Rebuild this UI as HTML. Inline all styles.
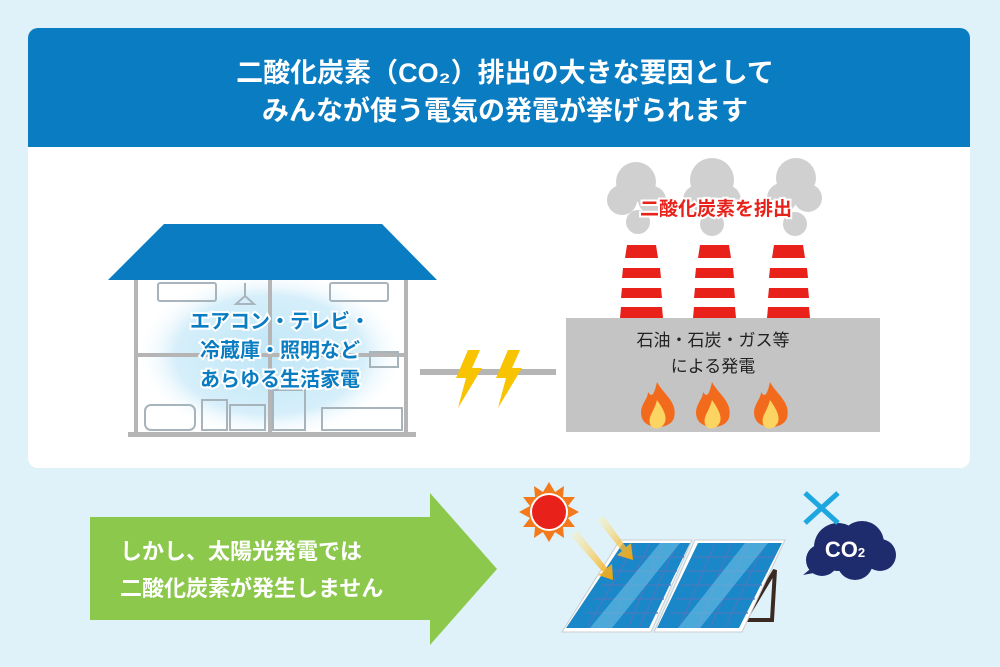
<!DOCTYPE html>
<html><head><meta charset="utf-8"><style>
body{margin:0;width:1000px;height:667px;background:#dff2fa;overflow:hidden;font-family:"Liberation Sans","Noto Sans CJK JP",sans-serif}
svg{position:absolute;left:0;top:0}
</style></head><body>
<svg width="1000" height="667" viewBox="0 0 1000 667" font-family="Liberation Sans, Noto Sans CJK JP, sans-serif">
<defs>
<radialGradient id="glow" cx="0.5" cy="0.5" r="0.5"><stop offset="0" stop-color="#bfe6f8"/><stop offset="0.7" stop-color="#d6effa"/><stop offset="1" stop-color="#fff" stop-opacity="0"/></radialGradient>
<linearGradient id="ray" x1="0" y1="0" x2="1" y2="1"><stop offset="0" stop-color="#fff3b0" stop-opacity="0.3"/><stop offset="1" stop-color="#f5a300"/></linearGradient>
</defs>
<rect x="28" y="28" width="942" height="440" rx="10" fill="#fff"/>
<path d="M38 28H960A10 10 0 0 1 970 38V147H28V38A10 10 0 0 1 38 28Z" fill="#0a7cc1"/>
<text x="505" y="82" fill="#fff" font-size="27" font-weight="bold" text-anchor="middle">二酸化炭素（CO₂）排出の大きな要因として</text>
<text x="505" y="120" fill="#fff" font-size="27" font-weight="bold" text-anchor="middle">みんなが使う電気の発電が挙げられます</text>
<!-- house -->
<ellipse cx="270" cy="355" rx="135" ry="85" fill="url(#glow)"/>
<g fill="none" stroke="#b5b5b5" stroke-width="4">
<path d="M136 280V433M406 280V433M136 355H406M270 280V433"/>
</g>
<rect x="128" y="432" width="288" height="5" fill="#b5b5b5"/>
<polygon points="108,280 164,224 382,224 437,280" fill="#0a7cc1"/>
<g fill="none" stroke="#a8b4bc" stroke-width="2">
<rect x="158" y="283" width="58" height="18" rx="2"/><rect x="330" y="283" width="58" height="18" rx="2"/>
<rect x="145" y="405" width="50" height="25" rx="6"/><rect x="202" y="400" width="25" height="30"/>
<rect x="230" y="405" width="35" height="25"/><rect x="273" y="390" width="32" height="40"/>
<rect x="322" y="408" width="80" height="22"/><rect x="370" y="352" width="28" height="15"/>
<path d="M245 283V296L236 304H254L245 296"/>
</g>
<g font-size="20" font-weight="bold" fill="#0a7cc1" text-anchor="middle" stroke="#fff" stroke-width="4" paint-order="stroke">
<text x="280" y="328">エアコン・テレビ・</text>
<text x="280" y="357">冷蔵庫・照明など</text>
<text x="280" y="386">あらゆる生活家電</text>
</g>
<rect x="420" y="369" width="136" height="6" fill="#b5b5b5"/>
<polygon points="468,350 480,350 472,368 482,368 458,408 466,378 456,378" fill="#f8c300"/>
<polygon points="508,350 520,350 512,368 522,368 498,408 506,378 496,378" fill="#f8c300"/>
<!-- factory -->
<g fill="#d0d0d0">
<circle cx="636" cy="182" r="20"/><circle cx="622" cy="200" r="15"/><circle cx="652" cy="200" r="14"/><circle cx="638" cy="222" r="12"/>
<circle cx="712" cy="180" r="22"/><circle cx="698" cy="200" r="15"/><circle cx="726" cy="200" r="15"/><circle cx="712" cy="224" r="12"/>
<circle cx="796" cy="178" r="20"/><circle cx="782" cy="198" r="15"/><circle cx="808" cy="198" r="14"/><circle cx="795" cy="224" r="12"/>
</g>
<text x="716" y="215" font-size="19" font-weight="bold" fill="#e8221a" text-anchor="middle" stroke="#fff" stroke-width="4" paint-order="stroke">二酸化炭素を排出</text>
<g>
<g id="ch"><polygon points="627,245 656,245 663,318 620,318" fill="#fff"/>
<polygon points="627,245 656,245 658,258 625,258" fill="#e8221a"/>
<polygon points="623,268 660,268 661,278 622,278" fill="#e8221a"/>
<polygon points="622,288 661,288 662,298 621,298" fill="#e8221a"/>
<polygon points="621,307 662,307 663,318 620,318" fill="#e8221a"/></g>
<use href="#ch" x="73"/><use href="#ch" x="147"/>
</g>
<rect x="566" y="318" width="314" height="114" fill="#c4c4c4"/>
<text x="713" y="346" font-size="17" fill="#222" text-anchor="middle">石油・石炭・ガス等</text>
<text x="713" y="372" font-size="17" fill="#222" text-anchor="middle">による発電</text>
<g id="fl"><path d="M657 382C664 395 678 402 674 418C670 430 646 430 642 418C638 406 648 400 648 392C652 398 654 395 657 382Z" fill="#f26b1d"/>
<path d="M657 400C664 410 668 418 664 424C660 430 652 430 650 424C648 416 654 412 657 400Z" fill="#fcd462"/></g>
<use href="#fl" x="55"/><use href="#fl" x="113"/>
<!-- arrow -->
<polygon points="90,517 430,517 430,493 497,569 430,645 430,620 90,620" fill="#8cc84b"/>
<text x="120" y="559" font-size="22" font-weight="bold" fill="#fff">しかし、太陽光発電では</text>
<text x="120" y="596" font-size="22" font-weight="bold" fill="#fff">二酸化炭素が発生しません</text>
<!-- sun -->
<g transform="translate(549,512)">
<polygon fill="#f27a1d" points="0,-30 6,-20 15,-26 14,-15 26,-15 19,-6 30,0 19,6 26,15 14,15 15,26 6,20 0,30 -6,20 -15,26 -14,15 -26,15 -19,6 -30,0 -19,-6 -26,-15 -14,-15 -15,-26 -6,-20"/>
<circle r="19" fill="#fff"/><circle r="17" fill="#e8221a"/></g>
<!-- panels -->
<polygon points="775,570 772,620 745,620" fill="none" stroke="#3a2a22" stroke-width="4"/>
<polygon points="620,540 692,540 651,632 562,632" fill="#fff" stroke="#ccc"/>
<polygon points="623,543 690,543 649,628 566,628" fill="#1a88c8"/>
<polygon points="695,540 785,540 742,632 654,632" fill="#fff" stroke="#ccc"/>
<polygon points="698,543 782,543 739,628 657,628" fill="#1a88c8"/>
<g stroke="#4a78c0" stroke-width="1.2" fill="none">
<path d="M616 557H684M609 571H677M602 585H671M594 599H664M587 613H658"/>
<path d="M693 557H775M688 571H768M682 585H762M676 599H755M670 613H748"/>
<path d="M636 543L587 628M650 543L608 628M663 543L628 628M677 543L639 628"/>
<path d="M715 543L679 628M731 543L698 628M748 543L710 628M765 543L725 628"/>
</g>
<polygon points="660,543 680,543 612,628 590,628" fill="#6cc0e6" opacity="0.6"/>
<polygon points="745,543 768,543 700,628 678,628" fill="#6cc0e6" opacity="0.6"/>
<polygon points="570,535 578,531 607,568 612,564 613,580 598,575 603,572" fill="url(#ray)"/>
<polygon points="597,520 604,516 626,547 631,543 633,560 617,555 622,551" fill="url(#ray)"/>
<!-- CO2 cloud -->
<g fill="#1e2c6e">
<circle cx="838" cy="547" r="24"/><circle cx="862" cy="543" r="22"/><circle cx="880" cy="555" r="16"/><circle cx="822" cy="560" r="16"/><circle cx="855" cy="562" r="18"/>
<polygon points="815,565 830,570 803,575"/>
</g>
<text x="845" y="557" font-size="22" font-weight="bold" fill="#fff" text-anchor="middle">CO<tspan font-size="13">2</tspan></text>
<path d="M805 493L838 523M838 493L805 523" stroke="#1ea6e0" stroke-width="5"/>
</svg>
</body></html>
